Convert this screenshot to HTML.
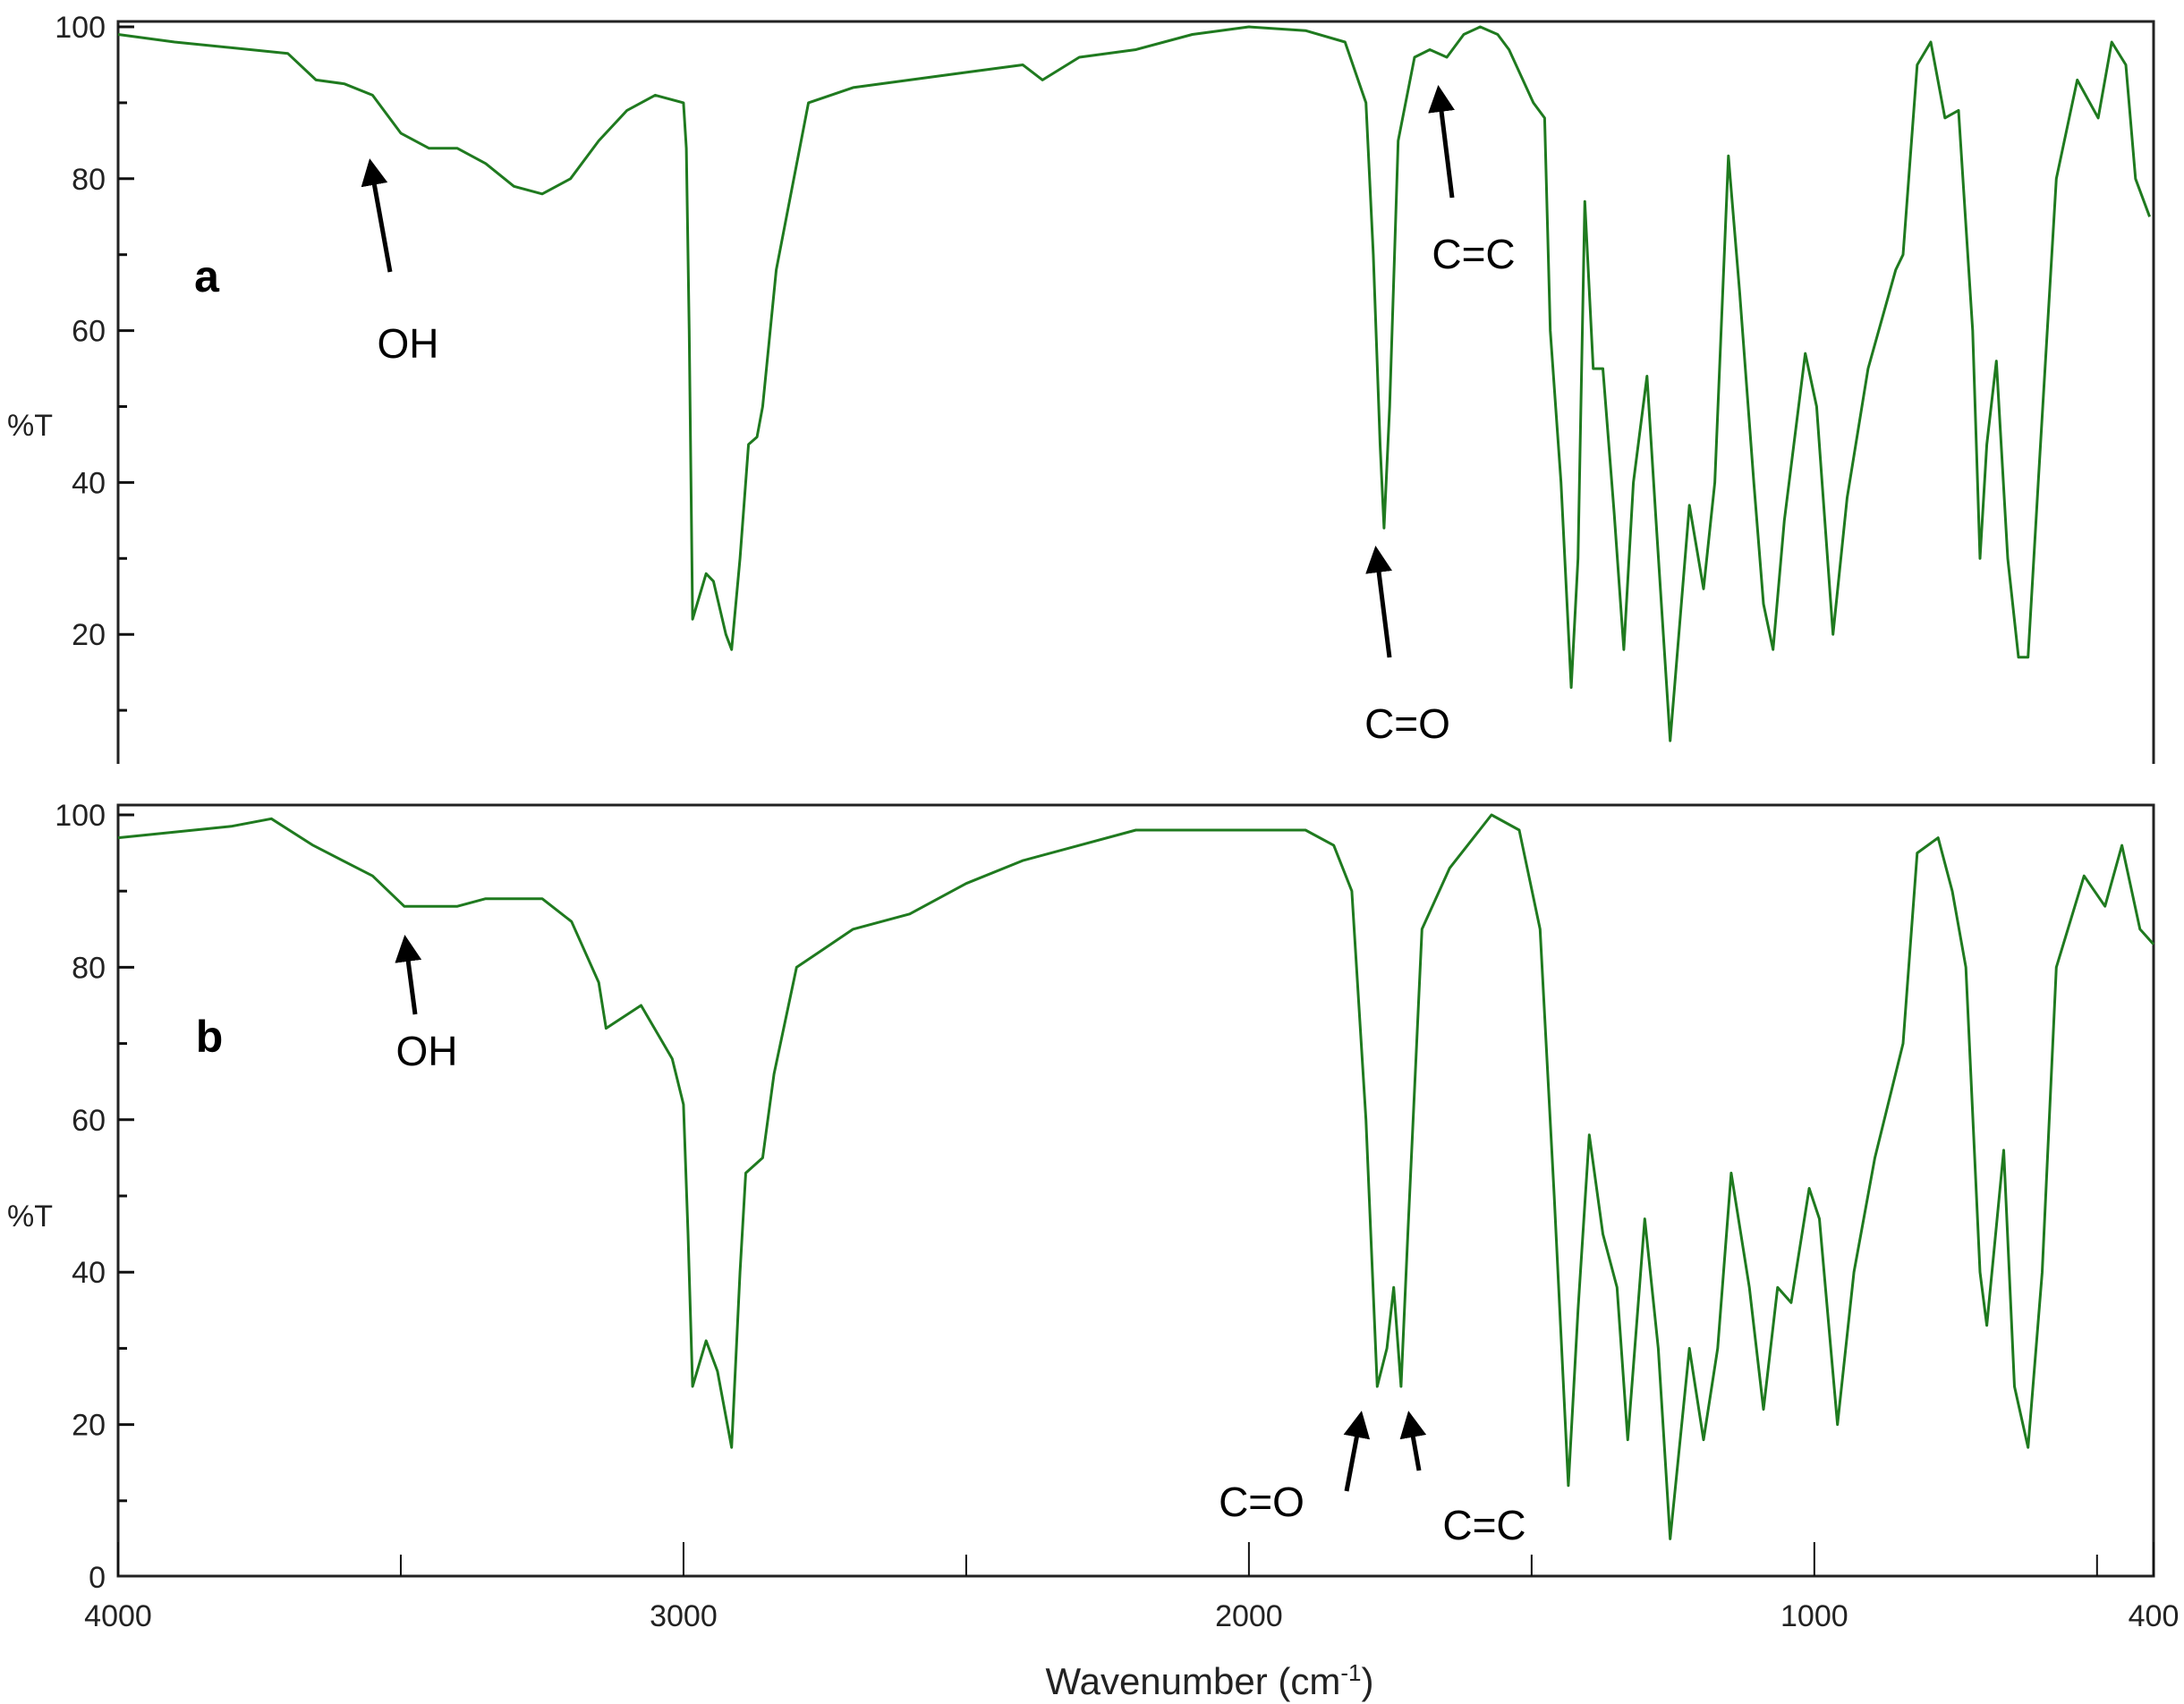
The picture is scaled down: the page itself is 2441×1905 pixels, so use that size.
<!DOCTYPE html>
<html><head><meta charset="utf-8"><style>
html,body{margin:0;padding:0;background:#fff;}
svg{display:block;font-family:"Liberation Sans",sans-serif;}
</style></head><body>
<svg id="chart" width="2441" height="1905" viewBox="0 0 2441 1905" xmlns="http://www.w3.org/2000/svg">
<defs><marker id="ah" markerWidth="6" markerHeight="6" refX="5" refY="3" orient="auto" markerUnits="strokeWidth"><path d="M0,0 L6,3 L0,6 z" fill="#000"/></marker></defs>
<g id="layer"></g>
</svg>
<script>
const wnA=[4000,3900,3700,3650,3600,3550,3500,3450,3400,3350,3300,3250,3200,3150,3100,3050,3000,2995,2990,2984,2960,2947,2925,2915,2900,2885,2870,2860,2836,2779,2700,2600,2500,2400,2365,2300,2200,2100,2000,1900,1830,1793,1780,1768,1761,1751,1736,1707,1680,1650,1620,1591,1560,1540,1497,1477,1467,1448,1430,1418,1406,1391,1374,1354,1337,1320,1296,1280,1255,1221,1196,1176,1152,1132,1107,1090,1073,1053,1016,996,967,942,905,856,843,818,794,769,745,720,707,695,678,658,639,622,604,572,535,498,474,449,432,407];
const tA=[99,98,96.5,93,92.5,91,86,84,84,82,79,78,80,85,89,91,90,84,60,22,28,27,20,18,30,45,46,50,68,90,92,93,94,95,93,96,97,99,100,99.5,98,90,70,45,34,50,85,96,97,96,99,100,99,97,90,88,60,40,13,30,77,55,55,36,18,40,54,35,6,37,26,40,83,65,40,24,18,35,57,50,20,38,55,68,70,95,98,88,89,60,30,45,56,30,17,17,40,80,93,88,98,95,80,75];
const wnB=[4000,3800,3729,3655,3550,3494,3400,3350,3250,3198,3150,3137,3075,3020,3000,2992,2984,2960,2940,2915,2900,2890,2860,2840,2800,2760,2700,2600,2500,2400,2300,2200,2100,1900,1850,1818,1793,1773,1756,1744,1731,1719,1694,1645,1571,1522,1485,1460,1435,1418,1398,1374,1349,1330,1300,1276,1255,1221,1196,1171,1147,1115,1090,1065,1041,1009,991,959,930,893,843,818,781,756,732,707,695,665,646,622,597,572,523,486,456,424,400];
const tB=[97,98.5,99.5,96,92,88,88,89,89,86,78,72,75,68,62,45,25,31,27,17,40,53,55,66,80,82,85,87,91,94,96,98,98,98,96,90,60,25,30,38,25,45,85,93,100,98,85,50,12,35,58,45,38,18,47,30,5,30,18,30,53,38,22,38,36,51,47,20,40,55,70,95,97,90,80,40,33,56,25,17,40,80,92,88,96,85,83];
const yTicks=[0,20,40,60,80,100];
const xTicks=[4000,3000,2000,1000,400];

const NS="http://www.w3.org/2000/svg";
const L=132,R=2407;
function xs(w){return L+(4000-w)*(R-L)/3600;}
const panels=[{top:24,bot:854,y100:30,y0:879,wn:wnA,t:tA,name:'a',box:false},
              {top:900,bot:1762,y100:911,y0:1763,wn:wnB,t:tB,name:'b',box:true}];
const g=document.getElementById('layer');
function el(tag,at,txt){const e=document.createElementNS(NS,tag);for(const k in at)e.setAttribute(k,at[k]);if(txt!==undefined)e.textContent=txt;g.appendChild(e);return e;}
panels.forEach(p=>{
  const ys=v=>p.y0+(p.y100-p.y0)*v/100;
  let e=el('path',{d:`M${L},${p.bot}L${L},${p.top}L${R},${p.top}L${R},${p.bot}`+(p.box?'Z':''),fill:'none',stroke:'#222','stroke-width':3});
  
  
  for(let v=10;v<=100;v+=10){const y=ys(v);if(y>p.bot)continue;
    e=el('line',{x1:L,x2:L+(v%20==0?18:10),y1:y,y2:y,stroke:'#111','stroke-width':3});
    
    }
  yTicks.forEach(v=>{const y=ys(v);if(y>p.bot+5)return;
    e=el('text',{x:118,y:y+12,'text-anchor':'end','font-size':34,fill:'#222'},String(v));
    
    });
  e=el('text',{x:8,y:(p===panels[0]?487:1371),'font-size':34,fill:'#222'},'%T');
  
  
  let d='';p.wn.forEach((w,i)=>{d+=(i?'L':'M')+xs(w).toFixed(1)+','+ys(p.t[i]).toFixed(1);});
  e=el('path',{d:d,fill:'none',stroke:'#1f7a1f','stroke-width':3,'stroke-linejoin':'round'});
  
  
});
for(let w=4000;w>=400;w-=500){const x=xs(w);const major=(w%1000==0);
  const e=el('line',{x1:x,x2:x,y1:1762,y2:1762-(major?38:24),stroke:'#111','stroke-width':2});
  
  }
{const e=el('line',{x1:xs(400),x2:xs(400),y1:1762,y2:1724,stroke:'#111','stroke-width':2});

}
xTicks.forEach(w=>{const e=el('text',{x:xs(w),y:1818,'text-anchor':'middle','font-size':34,fill:'#222'},String(w));
  
  });
{const e=el('text',{x:1352,y:1894,'text-anchor':'middle','font-size':42,fill:'#222'});


e.innerHTML='Wavenumber (cm<tspan baseline-shift="super" font-size="26">-1</tspan>)';}
const ann=[['panel-label-a','a',231,326,50,true],['panel-label-b','b',234,1176,50,true],
 ['oh-label-a','OH',456,400,46,false],['cc-label-a','C=C',1647,300,46,false],['co-label-a','C=O',1573,825,46,false],
 ['oh-label-b','OH',477,1191,46,false],['co-label-b','C=O',1410,1695,46,false],['cc-label-b','C=C',1659,1721,46,false]];
ann.forEach(a=>{const e=el('text',{x:a[2],y:a[3],'text-anchor':'middle','font-size':a[4],'font-weight':a[5]?'bold':'normal',fill:'#000'},a[1]);
  
  });
const arrows=[['oh-arrow-a',436,304,414,182],['cc-arrow-a',1623,221,1608,100],['co-arrow-a',1553,735,1538,615],
 ['oh-arrow-b',464,1134,453,1050],['co-arrow-b',1505,1667,1521,1582],['cc-arrow-b',1586,1644,1575,1582]];
arrows.forEach(a=>{const e=el('line',{x1:a[1],y1:a[2],x2:a[3],y2:a[4],stroke:'#000','stroke-width':5,'marker-end':'url(#ah)'});
  
  });
</script>
</body></html>
